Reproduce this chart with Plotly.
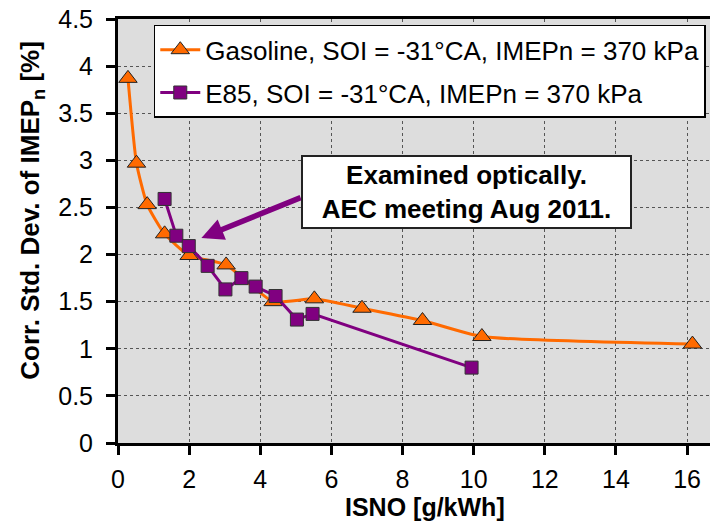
import plotly.graph_objects as go

# ---- data ----
gas_x = [0.28, 0.52, 0.82, 1.31, 2.00, 3.04, 4.36, 5.52, 6.86, 8.56, 10.23, 16.15]
gas_y = [3.87, 2.97, 2.53, 2.22, 1.99, 1.89, 1.50, 1.53, 1.43, 1.30, 1.13, 1.05]
e85_x = [1.31, 1.64, 1.99, 2.52, 3.02, 3.47, 3.87, 4.43, 5.03, 5.47, 9.94]
e85_y = [2.59, 2.20, 2.09, 1.88, 1.63, 1.75, 1.66, 1.56, 1.31, 1.37, 0.80]

gas_name = "Gasoline, SOI = -31°CA, IMEPn = 370 kPa"
e85_name = "E85, SOI = -31°CA, IMEPn = 370 kPa"

x_tickvals = [0, 2, 4, 6, 8, 10, 12, 14, 16]
x_ticktext = ["0", "2", "4", "6", "8", "10", "12", "14", "16"]
y_tickvals = [0, 0.5, 1, 1.5, 2, 2.5, 3, 3.5, 4, 4.5]
y_ticktext = ["0", "0.5", "1", "1.5", "2", "2.5", "3", "3.5", "4", "4.5"]

note_text = "Examined optically.<br>AEC meeting Aug 2011."
note_point = (2.345, 2.176)   # where the arrow points, in data units

x_title = "ISNO [g/kWh]"
y_title = "Corr. Std. Dev. of IMEP<sub>n</sub> [%]"

ORANGE = "#FF6A00"
PURPLE = "#800080"
FONT = "Liberation Sans, Arial, sans-serif"

W, H = 710, 524
L, T = 117.5, 18.5
B_PIX = 443.3
PW, PH = W - L, B_PIX - T


def px(xp):
    return (xp - L) / PW


def py(yp):
    return (B_PIX - yp) / PH


fig = go.Figure()
fig.add_trace(go.Scatter(
    x=gas_x, y=gas_y, name=gas_name, mode="lines+markers",
    line=dict(color=ORANGE, width=3, shape="spline", smoothing=0.5),
    marker=dict(symbol="triangle-up", size=16, color=ORANGE,
                line=dict(color="#222222", width=1)),
    legendgroup="g1",
))
fig.add_trace(go.Scatter(
    x=e85_x, y=e85_y, name=e85_name, mode="lines+markers",
    line=dict(color=PURPLE, width=3),
    marker=dict(symbol="square", size=13, color=PURPLE,
                line=dict(color="#333333", width=1)),
    legendgroup="g2",
))

# arrow
fig.add_annotation(
    x=note_point[0], y=note_point[1], xref="x", yref="y",
    text="", showarrow=True, ax=100.7, ay=-41, axref="pixel", ayref="pixel",
    arrowcolor=PURPLE, arrowwidth=5.5, arrowhead=2, arrowsize=0.8, standoff=0,
)
# text box
fig.add_annotation(
    x=px(466.4), y=py(192), xref="paper", yref="paper",
    xanchor="center", yanchor="middle", showarrow=False,
    text="<b>" + note_text.replace("<br>", "</b><br><b>") + "</b>",
    font=dict(family=FONT, size=26, color="black"),
    bgcolor="white", bordercolor="#222222", borderwidth=2, borderpad=0,
    width=327, height=70, align="center",
)
# axis titles
fig.add_annotation(
    x=px(425), y=py(523.5), xref="paper", yref="paper",
    xanchor="center", yanchor="bottom", showarrow=False,
    text="<b>" + x_title + "</b>",
    font=dict(family=FONT, size=25, color="black"),
)
fig.add_annotation(
    x=px(31), y=py(210), xref="paper", yref="paper",
    xanchor="center", yanchor="middle", showarrow=False, textangle=-90,
    text="<b>" + y_title + "</b>",
    font=dict(family=FONT, size=26, color="black"),
)

fig.update_layout(
    width=W, height=H,
    margin=dict(l=L, r=0, t=T, b=H - B_PIX, pad=0),
    paper_bgcolor="white", plot_bgcolor="#DDDDDD",
    font=dict(family=FONT, size=26, color="black"),
    showlegend=True,
    legend=dict(
        x=px(153.3), y=py(24.3), xanchor="left", yanchor="top",
        bgcolor="white", bordercolor="black", borderwidth=1.5,
        font=dict(family=FONT, size=26, color="black"),
        traceorder="grouped", tracegroupgap=6, itemwidth=40,
    ),
    xaxis=dict(
        range=[0, PW / 35.6], tickvals=x_tickvals, ticktext=x_ticktext,
        showline=True, linecolor="black", linewidth=3, mirror=True,
        ticks="outside", ticklen=9, tickwidth=2.5, tickcolor="black",
        showgrid=True, gridcolor="#555555", gridwidth=1, griddash="dot",
        zeroline=False, ticklabelstandoff=3,
        tickfont=dict(family=FONT, size=25, color="black"),
    ),
    yaxis=dict(
        range=[0, 4.5], tickvals=y_tickvals, ticktext=y_ticktext,
        showline=True, linecolor="black", linewidth=3,
        ticks="outside", ticklen=9, tickwidth=2.5, tickcolor="black",
        showgrid=True, gridcolor="#555555", gridwidth=1, griddash="dot",
        zeroline=False, ticklabelstandoff=8,
        tickfont=dict(family=FONT, size=25, color="black"),
    ),
)

fig.write_html("out.html")
